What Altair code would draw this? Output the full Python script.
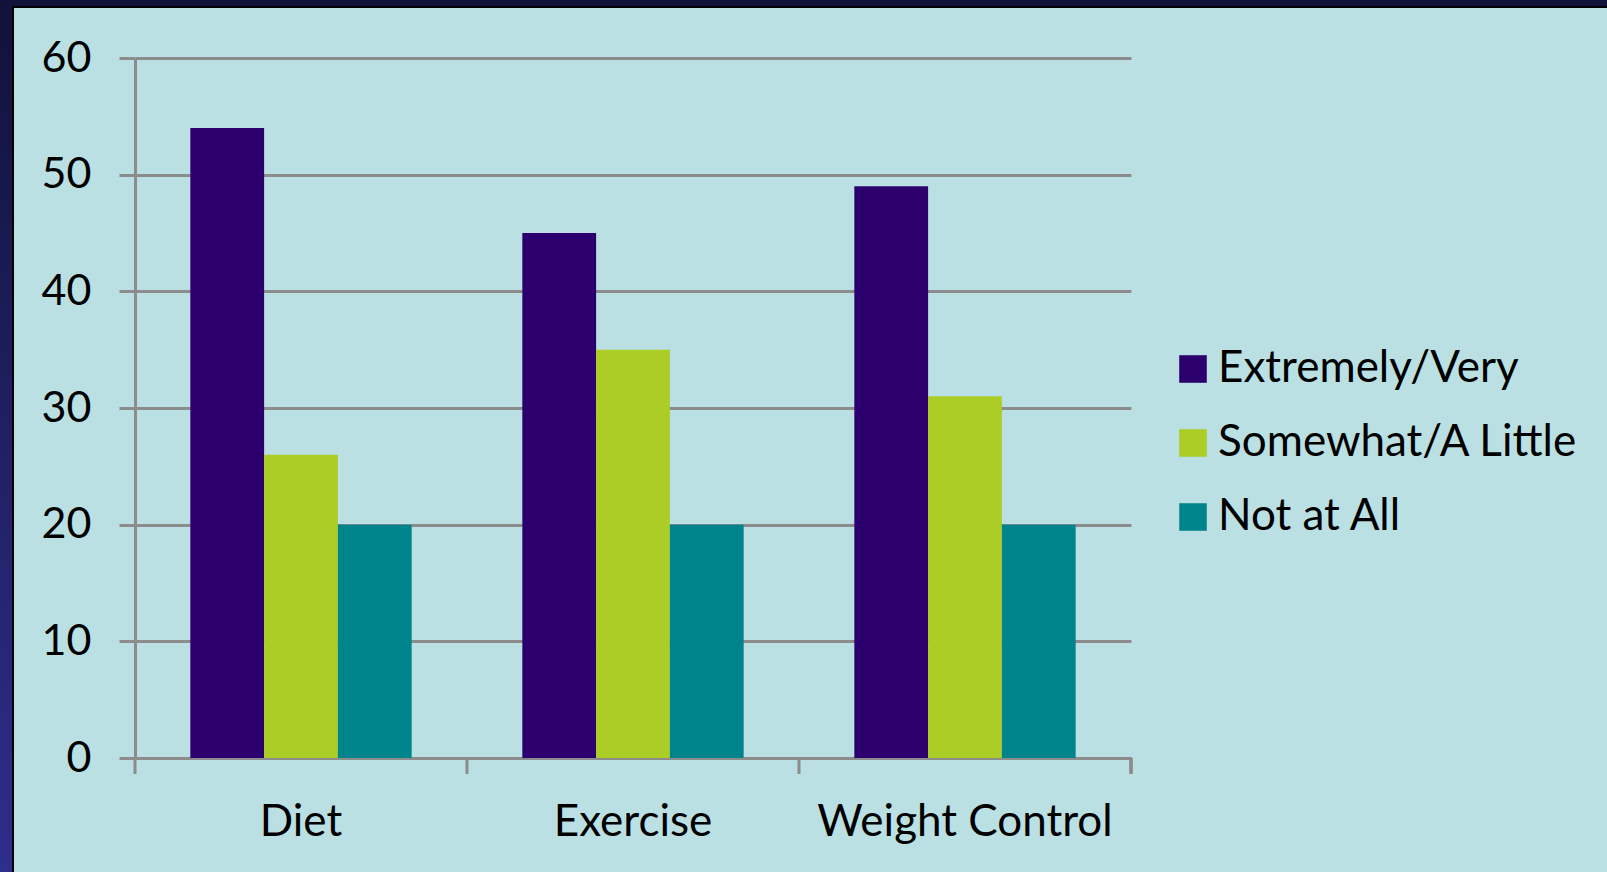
import altair as alt
import pandas as pd

categories = ["Diet", "Exercise", "Weight Control"]
series = ["Extremely/Very", "Somewhat/A Little", "Not at All"]
extremely = [54, 45, 49]
somewhat = [26, 35, 31]
not_at_all = [20, 20, 20]
colors = ["#2B006E", "#ACCC26", "#00848C"]
y_ticks = [0, 10, 20, 30, 40, 50, 60]

rows = []
for i, c in enumerate(categories):
    for s, vals in zip(series, [extremely, somewhat, not_at_all]):
        rows.append({"category": c, "series": s, "value": vals[i]})
df = pd.DataFrame(rows)
cat_df = pd.DataFrame({"category": categories})

W, H = 996, 700
FONT = "Lato"
STEP = W / 3.0
PAD_OUTER = 0.16667

x_scale = alt.Scale(domain=categories, paddingInner=0.3333, paddingOuter=PAD_OUTER)

bars = alt.Chart(df).mark_bar().encode(
    x=alt.X("category:N", scale=x_scale, sort=categories,
            axis=alt.Axis(title=None, labelAngle=0, ticks=False, domain=True,
                          domainColor="#8C8C8C", domainWidth=3,
                          labelFont=FONT, labelFontSize=44, labelColor="#000000",
                          labelPadding=42, labelLimit=0, grid=False)),
    xOffset=alt.XOffset("series:N", sort=series,
                        scale=alt.Scale(paddingInner=0, paddingOuter=0)),
    y=alt.Y("value:Q", scale=alt.Scale(domain=[0, 60], nice=False),
            axis=alt.Axis(title=None, values=y_ticks, grid=True, gridColor="#8C8C8C",
                          gridWidth=3, gridOpacity=1, domain=True, domainColor="#8C8C8C",
                          domainWidth=3, ticks=True, tickColor="#8C8C8C", tickWidth=3,
                          tickSize=16, labelFont=FONT, labelFontSize=43,
                          labelColor="#000000", labelPadding=28)),
    color=alt.Color("series:N", sort=series,
                    scale=alt.Scale(domain=series, range=colors),
                    legend=alt.Legend(title=None, orient="none", legendX=1036, legendY=289,
                                      symbolType="square", symbolSize=760,
                                      symbolStrokeWidth=0, symbolOpacity=1,
                                      labelFont=FONT, labelFontSize=44,
                                      labelColor="#000000", labelOffset=3,
                                      rowPadding=30, labelLimit=600)),
)

xticks = alt.Chart(cat_df).mark_rule(color="#8C8C8C", strokeWidth=3,
                                     xOffset=-STEP * PAD_OUTER).encode(
    x=alt.X("category:N", scale=x_scale, sort=categories, bandPosition=0),
    y=alt.value(H),
    y2=alt.value(H + 16),
)
last_tick = alt.Chart(cat_df).mark_rule(color="#8C8C8C", strokeWidth=3).encode(
    x=alt.value(W), y=alt.value(H), y2=alt.value(H + 16),
)

frame_left = alt.Chart(cat_df).mark_rect(
    color=alt.LinearGradient(gradient="linear",
                             stops=[alt.GradientStop(color="#12113A", offset=0),
                                    alt.GradientStop(color="#2E2E8C", offset=1)],
                             x1=0, x2=0, y1=0, y2=1)
).encode(x=alt.value(-135), x2=alt.value(-123), y=alt.value(-58), y2=alt.value(814))
frame_left_line = alt.Chart(cat_df).mark_rect(color="#000000").encode(
    x=alt.value(-123), x2=alt.value(-121), y=alt.value(-52), y2=alt.value(814))
frame_top = alt.Chart(cat_df).mark_rect(color="#12113A").encode(
    x=alt.value(-135), x2=alt.value(1607 - 135), y=alt.value(-58), y2=alt.value(-52))
frame_top_line = alt.Chart(cat_df).mark_rect(color="#000000").encode(
    x=alt.value(-123), x2=alt.value(1607 - 135), y=alt.value(-52), y2=alt.value(-50))

chart = alt.layer(bars, xticks, last_tick, frame_left, frame_left_line, frame_top,
                  frame_top_line).properties(
    width=W, height=H,
    background="#BAE0E3",
    padding={"left": 135, "top": 58, "right": 476, "bottom": 114},
    autosize=alt.AutoSizeParams(type="none"),
).configure_view(stroke=None)

chart.save("out.html", embed_options={"renderer": "svg", "actions": False})
